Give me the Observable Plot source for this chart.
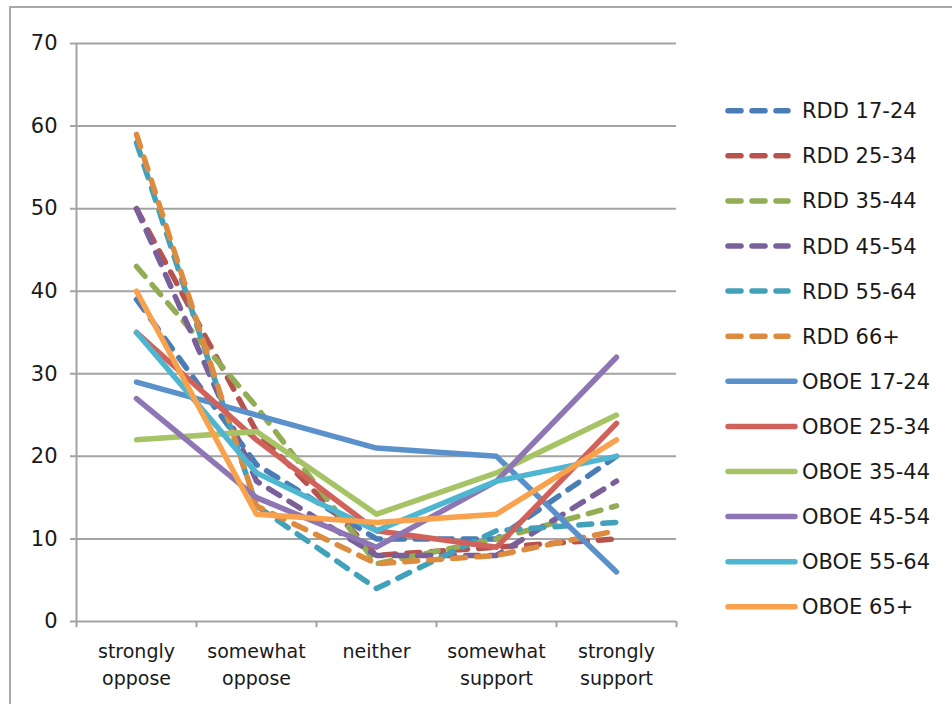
<!DOCTYPE html>
<html>
<head>
<meta charset="utf-8">
<script src="https://cdn.jsdelivr.net/npm/d3@7"></script>
<script src="https://cdn.jsdelivr.net/npm/@observablehq/plot@0.6"></script>
<style>
  html, body { margin: 0; padding: 0; background: #fff; }
  #wrap { position: relative; width: 952px; height: 704px; overflow: hidden; font-family: "DejaVu Sans", sans-serif; }
  #border { position: absolute; left: 9px; top: 6px; width: 1000px; height: 800px; border: 2px solid #a8a8a8; box-sizing: border-box; }
  #chart { position: absolute; left: 0; top: 0; }
  #legend { position: absolute; left: 0; top: 0; }
</style>
</head>
<body>
<div id="wrap">
  <div id="border"></div>
  <div id="chart"></div>
  <div id="legend"></div>
</div>
<script>
// Categories (x axis)
const categories = ["strongly\noppose", "somewhat\noppose", "neither", "somewhat\nsupport", "strongly\nsupport"];
const yTicks = [0, 10, 20, 30, 40, 50, 60, 70];

// Series names, in legend order
const seriesNames = ["RDD 17-24", "RDD 25-34", "RDD 35-44", "RDD 45-54", "RDD 55-64", "RDD 66+",
                     "OBOE 17-24", "OBOE 25-34", "OBOE 35-44", "OBOE 45-54", "OBOE 55-64", "OBOE 65+"];

// Series values (percent), one per category
const rdd1724  = [39, 19, 10, 10, 20];
const rdd2534  = [50, 23, 8, 9, 10];
const rdd3544  = [43, 26, 7, 10, 14];
const rdd4554  = [50, 17, 8, 8, 17];
const rdd5564  = [58, 14, 4, 11, 12];
const rdd66    = [59, 14, 7, 8, 11];
const oboe1724 = [29, 25, 21, 20, 6];
const oboe2534 = [35, 22, 11, 9, 24];
const oboe3544 = [22, 23, 13, 18, 25];
const oboe4554 = [27, 15, 9, 17, 32];
const oboe5564 = [35, 18, 11, 17, 20];
const oboe65   = [40, 13, 12, 13, 22];

const seriesValues = [rdd1724, rdd2534, rdd3544, rdd4554, rdd5564, rdd66,
                      oboe1724, oboe2534, oboe3544, oboe4554, oboe5564, oboe65];
const seriesColors = ["#4a7cb6", "#b8524e", "#93ad56", "#7a609b", "#42a1ba", "#dc8b3f",
                      "#5b91cb", "#d0625b", "#a6c465", "#8d76b3", "#4eb6d0", "#f9a24e"];
const seriesDashed = [true, true, true, true, true, true, false, false, false, false, false, false];

// Build table
const rows = [];
seriesNames.forEach((name, s) => {
  seriesValues[s].forEach((v, i) => rows.push({series: name, idx: i, value: v}));
});
const boundaries = d3.range(categories.length + 1).map(i => i - 0.5);

const lineMarks = seriesNames.map((name, s) =>
  Plot.line(rows.filter(r => r.series === name), {
    x: "idx", y: "value",
    stroke: seriesColors[s], strokeWidth: 5.5,
    strokeLinecap: "round", strokeLinejoin: "round",
    strokeDasharray: seriesDashed[s] ? "13,11" : null
  })
);

const chart = Plot.plot({
  width: 952,
  height: 704,
  marginLeft: 76,
  marginRight: 276,
  marginTop: 43,
  marginBottom: 83,
  style: { fontFamily: "DejaVu Sans, sans-serif", background: "transparent", overflow: "visible" },
  x: { type: "linear", domain: [-0.5, categories.length - 0.5], axis: null },
  y: { domain: [0, 70], axis: null },
  marks: [
    Plot.ruleY(yTicks, { y: d => d, stroke: "#a3a3a3", strokeWidth: 2, insetLeft: -6 }),
    Plot.ruleX([boundaries[0]], { x: d => d, y1: 0, y2: 70, stroke: "#a3a3a3", strokeWidth: 2 }),
    Plot.ruleX(boundaries, { x: d => d, y1: 0, y2: -0.75, stroke: "#a3a3a3", strokeWidth: 2 }),
    Plot.axisY({ ticks: yTicks, tickSize: 0, tickPadding: 19, fontSize: 21, color: "#1a1a1a", label: null, tickFormat: d => String(d) }),
    Plot.text(categories, { x: (d, i) => i, y: () => 0, text: d => d, dy: 18.5, lineAnchor: "top", lineHeight: 1.37, fontSize: 19, fill: "#1a1a1a" }),
    ...lineMarks
  ]
});
document.getElementById("chart").appendChild(chart);

// Legend
const ns = "http://www.w3.org/2000/svg";
const lg = document.createElementNS(ns, "svg");
lg.setAttribute("width", 952);
lg.setAttribute("height", 704);
lg.style.fontFamily = "DejaVu Sans, sans-serif";
seriesNames.forEach((name, s) => {
  const y = 110.7 + 45.1 * s;
  const ln = document.createElementNS(ns, "line");
  ln.setAttribute("x1", 728); ln.setAttribute("x2", seriesDashed[s] ? 788 : 795);
  ln.setAttribute("y1", y); ln.setAttribute("y2", y);
  ln.setAttribute("stroke", seriesColors[s]);
  ln.setAttribute("stroke-width", 5.5);
  ln.setAttribute("stroke-linecap", "round");
  if (seriesDashed[s]) ln.setAttribute("stroke-dasharray", "13,11");
  lg.appendChild(ln);
  const t = document.createElementNS(ns, "text");
  t.setAttribute("x", 802);
  t.setAttribute("y", y + 7.5);
  t.setAttribute("font-size", 21);
  t.setAttribute("fill", "#1a1a1a");
  t.textContent = name;
  lg.appendChild(t);
});
document.getElementById("legend").appendChild(lg);
</script>
</body>
</html>
